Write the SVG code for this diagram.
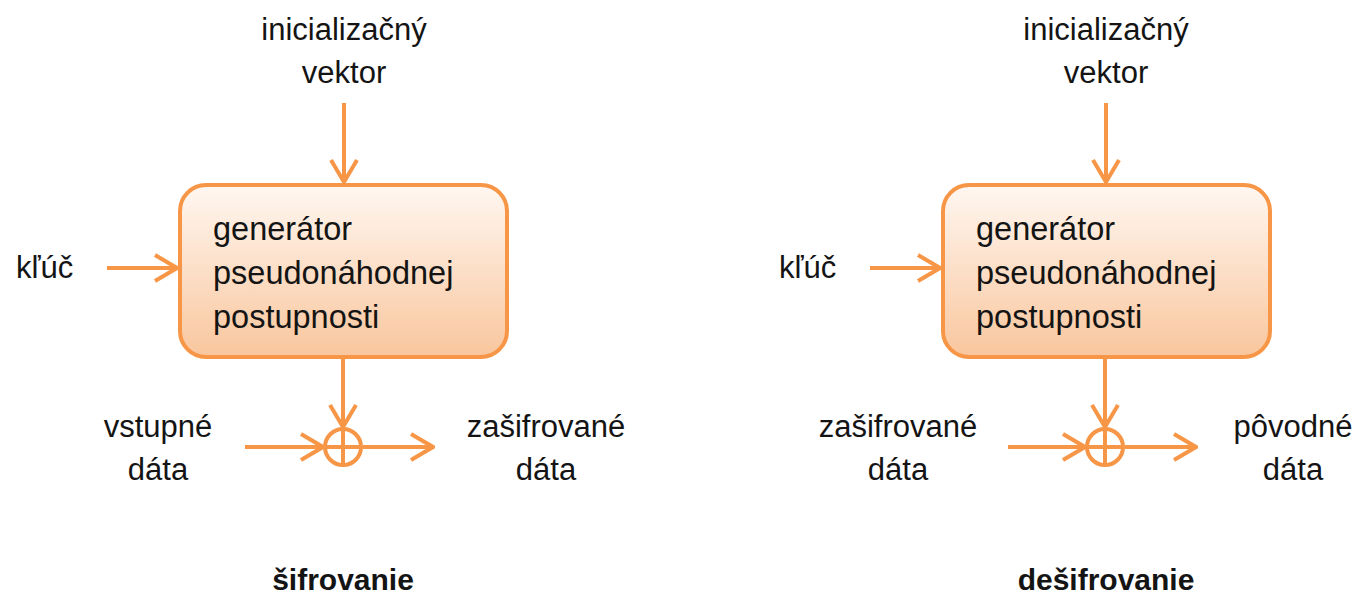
<svg xmlns="http://www.w3.org/2000/svg" width="1360" height="594" viewBox="0 0 1360 594">
<style>
.t{font-family:"Liberation Sans","Noto Sans",sans-serif;font-size:31px;fill:#141414}
.bx{font-size:32.5px}
.m{text-anchor:middle}
.b{font-weight:bold;font-size:30px}
.ln{stroke:#F79646;stroke-width:4;fill:none}
.box{stroke:#F79646;stroke-width:4;fill:url(#g)}
</style>
<defs>
<linearGradient id="g" x1="0" y1="0" x2="0" y2="1">
<stop offset="0" stop-color="#FFF7F1"/>
<stop offset="1" stop-color="#F9C69D"/>
</linearGradient>
<marker id="a" viewBox="0 0 26 30" refX="24" refY="15" markerWidth="26" markerHeight="30" markerUnits="userSpaceOnUse" orient="auto">
<path d="M2,2 L24,15 L2,28" fill="none" stroke="#F79646" stroke-width="4" stroke-linejoin="miter"/>
</marker>
</defs>

<g id="connectors">
<line class="ln" x1="344" y1="103" x2="344" y2="182" marker-end="url(#a)"/>
<line class="ln" x1="107" y1="268" x2="177" y2="268" marker-end="url(#a)"/>
<line class="ln" x1="343" y1="357" x2="343" y2="427" marker-end="url(#a)"/>
<line class="ln" x1="245" y1="447" x2="323" y2="447" marker-end="url(#a)"/>
<line class="ln" x1="363" y1="447" x2="433" y2="447" marker-end="url(#a)"/>

<line class="ln" x1="1106" y1="103" x2="1106" y2="182" marker-end="url(#a)"/>
<line class="ln" x1="870" y1="268" x2="940" y2="268" marker-end="url(#a)"/>
<line class="ln" x1="1105" y1="357" x2="1105" y2="427" marker-end="url(#a)"/>
<line class="ln" x1="1008" y1="447" x2="1085" y2="447" marker-end="url(#a)"/>
<line class="ln" x1="1125" y1="447" x2="1196" y2="447" marker-end="url(#a)"/>
</g>

<g id="enc-generator">
<rect class="box" x="180" y="185" width="327" height="172" rx="26" ry="26"/>
<text class="t bx" x="213" y="240">generátor</text>
<text class="t bx" x="213" y="284">pseudonáhodnej</text>
<text class="t bx" x="213" y="328">postupnosti</text>
</g>
<g id="enc-xor">
<circle class="ln" cx="343" cy="447" r="18"/>
<line class="ln" x1="325" y1="447" x2="361" y2="447"/>
<line class="ln" x1="343" y1="429" x2="343" y2="465"/>
</g>
<g id="enc-iv"><text class="t m" x="344" y="40">inicializačný</text><text class="t m" x="344" y="83">vektor</text></g>
<g id="enc-key"><text class="t" x="16" y="278">kľúč</text></g>
<g id="enc-in"><text class="t m" x="158" y="437">vstupné</text><text class="t m" x="158" y="480">dáta</text></g>
<g id="enc-out"><text class="t m" x="546" y="437">zašifrované</text><text class="t m" x="546" y="480">dáta</text></g>
<g id="enc-title"><text class="t m b" x="343" y="590">šifrovanie</text></g>

<g id="dec-generator">
<rect class="box" x="943" y="185" width="327" height="172" rx="26" ry="26"/>
<text class="t bx" x="976" y="240">generátor</text>
<text class="t bx" x="976" y="284">pseudonáhodnej</text>
<text class="t bx" x="976" y="328">postupnosti</text>
</g>
<g id="dec-xor">
<circle class="ln" cx="1105" cy="447" r="18"/>
<line class="ln" x1="1087" y1="447" x2="1123" y2="447"/>
<line class="ln" x1="1105" y1="429" x2="1105" y2="465"/>
</g>
<g id="dec-iv"><text class="t m" x="1106" y="40">inicializačný</text><text class="t m" x="1106" y="83">vektor</text></g>
<g id="dec-key"><text class="t" x="779" y="278">kľúč</text></g>
<g id="dec-in"><text class="t m" x="898" y="437">zašifrované</text><text class="t m" x="898" y="480">dáta</text></g>
<g id="dec-out"><text class="t m" x="1293" y="437">pôvodné</text><text class="t m" x="1293" y="480">dáta</text></g>
<g id="dec-title"><text class="t m b" x="1106" y="590">dešifrovanie</text></g>
</svg>
